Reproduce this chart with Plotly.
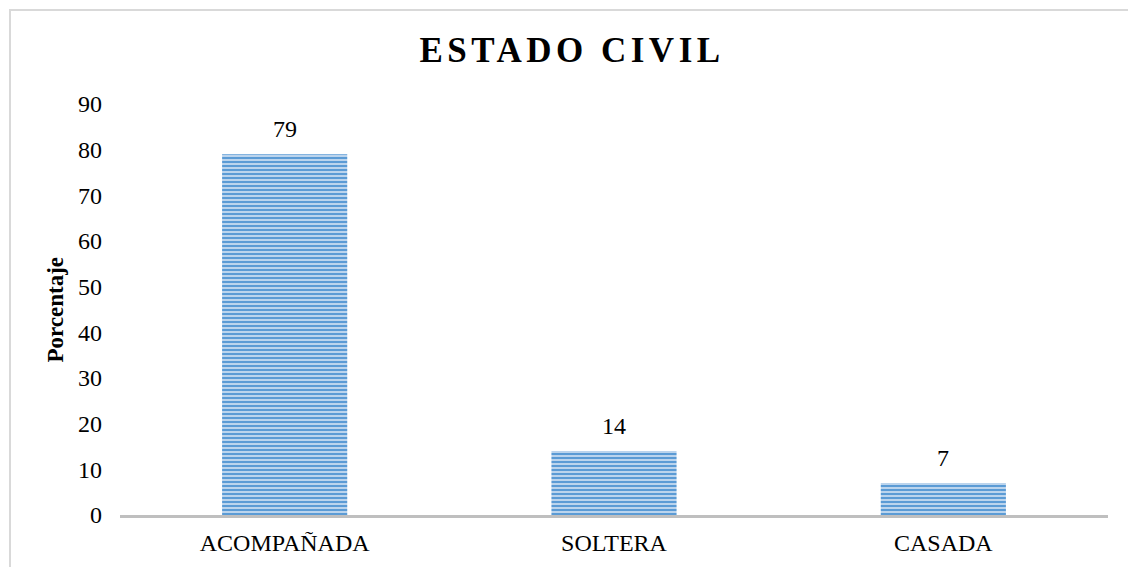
import plotly.graph_objects as go

categories = ["ACOMPAÑADA", "SOLTERA", "CASADA"]
values = [79, 14, 7]
y_ticks = [0, 10, 20, 30, 40, 50, 60, 70, 80, 90]

W, H = 1136, 567
OFF = 8  # default body margin of the html page
# target pixel geometry of the plot area (in the screenshot)
px_left, px_right, px_top, px_bottom = 120, 1108, 104, 515
L = px_left - OFF
T = px_top - OFF
R = W - (px_right - OFF)
B = H - (px_bottom - OFF)
pw = px_right - px_left
ph = px_bottom - px_top


def paper_x(px):
    return (px - px_left) / pw


def paper_y(py):
    return (px_bottom - py) / ph


fig = go.Figure()
fig.add_trace(go.Bar(
    x=categories, y=values,
    marker=dict(
        color="#BDD7EE",
        line=dict(width=0),
        pattern=dict(shape="-", fgcolor="#5B9BD5", bgcolor="#C6DBF0",
                     size=4, solidity=0.55, fillmode="replace"),
    ),
    width=0.38,
    hoverinfo="x+y",
))

annotations = [
    dict(x=c, y=v, xref="x", yref="y", text=str(v), showarrow=False,
         yanchor="bottom", yshift=10,
         font=dict(family="Liberation Serif", size=24, color="#000000"))
    for c, v in zip(categories, values)
]
annotations.append(dict(
    text="<b>Porcentaje</b>", textangle=-90,
    xref="paper", yref="paper", x=paper_x(55), y=0.5,
    xanchor="center", yanchor="middle", showarrow=False,
    font=dict(family="Liberation Serif", size=23, color="#000000"),
))

fig.update_layout(
    width=W, height=H,
    margin=dict(l=L, r=R, t=T, b=B, pad=0),
    paper_bgcolor="white", plot_bgcolor="white",
    showlegend=False,
    font=dict(family="Liberation Serif", size=24, color="#000000"),
    title=dict(
        text='<span style="letter-spacing:4.5px"><b>ESTADO CIVIL</b></span>',
        font=dict(family="Liberation Serif", size=35, color="#000000"),
        x=(572 - OFF) / W, xref="container", xanchor="center",
        y=1 - (50 - OFF) / H, yref="container", yanchor="middle",
    ),
    xaxis=dict(
        showgrid=False, zeroline=False,
        showline=True, linecolor="#BFBFBF", linewidth=3,
        ticks="", ticklabelstandoff=4,
        tickfont=dict(family="Liberation Serif", size=24, color="#000000"),
    ),
    yaxis=dict(
        range=[0, 90], tickvals=y_ticks, showgrid=False, zeroline=False,
        showline=False, ticks="",
        ticklabelstandoff=17,
        tickfont=dict(family="Liberation Serif", size=24, color="#000000"),
    ),
    annotations=annotations,
    shapes=[dict(
        type="rect", xref="paper", yref="paper",
        x0=paper_x(10), x1=paper_x(W + 20),
        y0=paper_y(H + 20), y1=paper_y(10),
        line=dict(color="#D9D9D9", width=2), fillcolor="rgba(0,0,0,0)",
        layer="below",
    )],
)

fig.write_html("out.html")
